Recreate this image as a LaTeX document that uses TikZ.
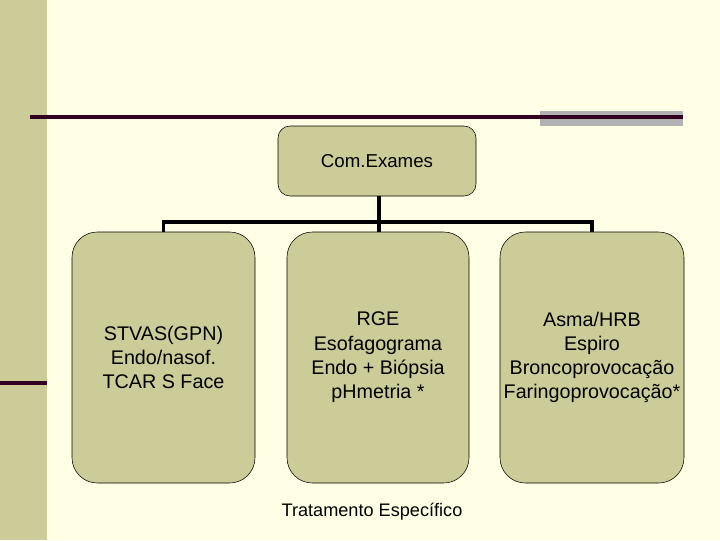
\documentclass[tikz,border=0pt]{standalone}
\usepackage{fontspec}
\setmainfont{Liberation Sans}
\usepackage{xcolor}
\definecolor{PageCream}{HTML}{FFFFE5}
\definecolor{BandTan}{HTML}{CCCC99}
\definecolor{RuleMaroon}{HTML}{330022}
\definecolor{BarGray}{HTML}{B2B2B2}
\begin{document}
\begin{tikzpicture}[x=0.75pt, y=-0.75pt]
		% page and slide decorations
		\useasboundingbox (0,0) rectangle (720,540);
		\fill[PageCream] (0,0) rectangle (720,540);
		\fill[BandTan] (0,0) rectangle (47,540);
		\fill[BarGray] (540,111) rectangle (683,126);
		\draw[RuleMaroon, line width=2.3pt] (30,117) -- (683,117);
		\draw[RuleMaroon, line width=3pt] (0,383) -- (47,383);
		
		% org chart boxes
		\node[draw, fill=BandTan, rounded corners=9pt, minimum width=148.5pt, minimum height=52.5pt, inner sep=0pt, font=\fontsize{14}{17}\selectfont] (exames) at (377,161) {Com.Exames};
		\node[draw, fill=BandTan, rounded corners=19pt, minimum width=137.25pt, minimum height=188.25pt, inner sep=0pt, align=center, font=\fontsize{14.8}{18.2}\selectfont] (nasal) at (163.5,357.5) {STVAS(GPN)\\Endo/nasof.\\TCAR S Face};
		\node[draw, fill=BandTan, rounded corners=19pt, minimum width=136.5pt, minimum height=188.25pt, inner sep=0pt, align=center, font=\fontsize{14.8}{18.2}\selectfont] (rge) at (378,357.5) {RGE\\Esofagograma\\Endo + Biópsia\\pHmetria *};
		\node[draw, fill=BandTan, rounded corners=19pt, minimum width=138pt, minimum height=188.25pt, inner sep=0pt, align=center, font=\fontsize{14.8}{18.2}\selectfont] (asma) at (592,357.5) {Asma/HRB\\Espiro\\Broncoprovocação\\Faringoprovocação*};
		\node[font=\fontsize{13.6}{16}\selectfont] (trat) at (372,512) {Tratamento Específico};
		
		% connectors
		\coordinate (bus) at (379,222);
		\draw[line width=2.3pt] (exames.south -| bus) -- (bus);
		\draw[line width=2.3pt] (bus) -| (nasal.north);
		\draw[line width=2.3pt] (bus) -- (rge.north -| bus);
		\draw[line width=2.3pt] (bus) -| (asma.north);
	\end{tikzpicture}
\end{document}
